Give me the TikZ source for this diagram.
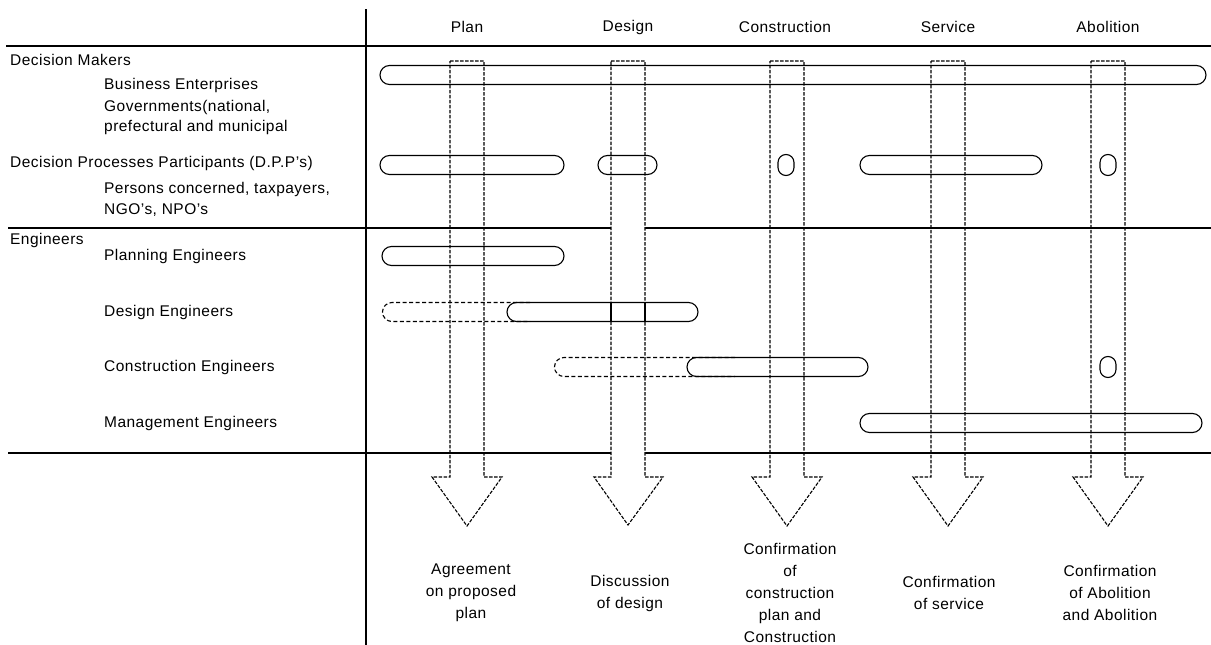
\documentclass[tikz,border=0pt]{standalone}
\usepackage{fontspec}
\setmainfont{Liberation Sans}[LetterSpace=3]
\usetikzlibrary{positioning}

\begin{document}
\begin{tikzpicture}[x=1pt,y=-1pt,font=\fontsize{15.5}{22}\selectfont,
  rule/.style={line width=2pt},
  bar/.style={line width=1.1pt,rounded corners=9.5pt},
  plan/.style={line width=1.1pt,dash pattern=on 4pt off 2.5pt},
  flow/.style={line width=1.1pt,dash pattern=on 3.5pt off 1.5pt},
  lab/.style={anchor=west,inner sep=0pt},
  res/.style={align=center,inner sep=0pt}]
\useasboundingbox (0,0) rectangle (1211,645);

% frame
\draw[rule] (6,46) -- (1211,46);
\draw[rule] (8,228) -- (1211,228);
\draw[rule] (8,453) -- (1211,453);
\draw[rule] (366,9) -- (366,645);

% stage headings
\foreach \x/\t [count=\i] in {467/Plan,628/Design,785/Construction,948/Service,1108/Abolition}
  \node[inner sep=0pt] (st\i) at (\x,27) {\t};

% rows
\node[lab] (dm) at (10,60) {Decision Makers};
\node[lab] (be) at (104,85) {Business Enterprises};
\node[lab] (gov1) at (104,107) {Governments(national,};
\node[lab] (gov2) at (104,127) {prefectural and municipal};
\node[lab] (dpp) at (10,163) {Decision Processes Participants (D.P.P's)};
\node[lab] (pc1) at (104,189) {Persons concerned, taxpayers,};
\node[lab] (pc2) at (104,210) {NGO's, NPO's};
\node[lab] (eng) at (10,240) {Engineers};
\node[lab] (pe) at (104,256) {Planning Engineers};
\node[lab] (de) at (104,312) {Design Engineers};
\node[lab] (ce) at (104,367) {Construction Engineers};
\node[lab] (me) at (104,423) {Management Engineers};

% design arrow covers the rules
\draw[flow,fill=white] (611,61) -- (645,61) -- (645,477) -- (663,477) -- (628,525)
  -- (594,477) -- (611,477) -- cycle;

% involvement bars
\draw[bar] (380,65.5) rectangle (1206,84.5);
\draw[bar] (380,155.5) rectangle (564,174.5);
\draw[bar] (598,155.5) rectangle (657,174.5);
\draw[bar] (860,155.5) rectangle (1042,174.5);
\draw[bar,rounded corners=8pt] (778,154.5) rectangle (794,175.5);
\draw[bar,rounded corners=8pt] (1100,154.5) rectangle (1116,175.5);
\draw[bar] (382,246.5) rectangle (564,265.5);
\draw[plan] (530,302.5) -- (392,302.5) arc (-90:-270:9.5) -- (530,321.5);
\draw[bar] (507,302.5) rectangle (698,321.5);
\draw[line width=1.1pt] (611,302.5) -- (611,321.5) (645,302.5) -- (645,321.5);
\draw[plan] (735,357.5) -- (564,357.5) arc (-90:-270:9.5) -- (735,376.5);
\draw[bar] (687,357.5) rectangle (868,376.5);
\draw[bar,rounded corners=8pt] (1100,356.5) rectangle (1116,377.5);
\draw[bar] (860,413.5) rectangle (1202,432.5);

% decision flow arrows
\foreach \x in {467,787,948,1108}
  \draw[flow] (\x-17,61) -- (\x+17,61) -- (\x+17,477) -- (\x+35,477) -- (\x,526)
    -- (\x-35,477) -- (\x-17,477) -- cycle;

% results
\node[res] (r1) at (471,593) {Agreement\\on proposed\\plan};
\node[res] (r2) at (630,593) {Discussion\\of design};
\node[res] (r3) at (790,593) {Confirmation\\of\\construction\\plan and\\Construction};
\node[res] (r4) at (949,593) {Confirmation\\of service};
\node[res] (r5) at (1110,593) {Confirmation\\of Abolition\\and Abolition};
\end{tikzpicture}
\end{document}
